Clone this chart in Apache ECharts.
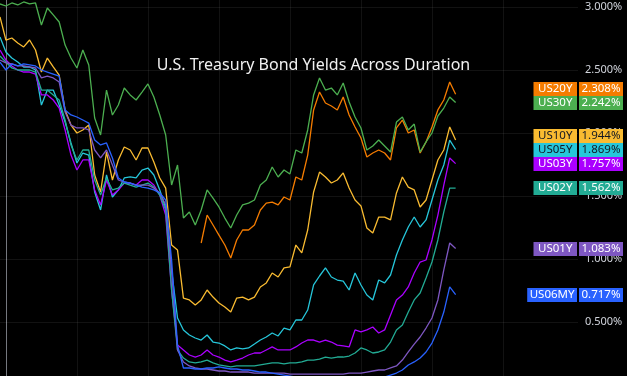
<!DOCTYPE html>
<html><head><meta charset="utf-8">
<script src="https://cdn.jsdelivr.net/npm/echarts@6/dist/echarts.min.js"></script>
<style>html,body{margin:0;padding:0;background:#000;}#c{width:627px;height:376px;}</style>
</head><body><div id="c"></div>
<script>
// sample spacing (months, starting mid-Dec 2018 = -0.5, Jan 2019 = 0)
const startMonth = -0.5;
const stepMonth = 0.5;
const gridMonths = [0, 6, 12, 18, 24, 30, 36, 42];
const yTicks = [0.5, 1.0, 1.5, 2.0, 2.5, 3.0];
const yRange = [0.0714, 3.0556];
const title = 'U.S. Treasury Bond Yields Across Duration';

const us30y = [3.024,3.008,3.032,3.016,3.040,3.024,3.032,2.857,2.992,2.937,
 2.881,2.698,2.595,2.516,2.659,2.540,2.119,1.984,2.341,2.143,
 2.222,2.357,2.302,2.262,2.325,2.389,2.286,2.143,1.984,1.587,
 1.746,1.325,1.373,1.270,1.389,1.548,1.484,1.413,1.325,1.246,
 1.349,1.429,1.444,1.468,1.587,1.627,1.730,1.651,1.706,1.675,
 1.865,1.841,2.024,2.302,2.437,2.341,2.357,2.302,2.397,2.246,
 2.127,2.040,1.865,1.897,1.944,1.897,1.849,2.087,2.127,2.024,
 2.071,1.849,1.929,2.000,2.135,2.198,2.286,2.242];
const us20y = [null,null,null,null,null,null,null,null,null,null,
 null,null,null,null,null,null,null,null,null,null,
 null,null,null,null,null,null,null,null,null,null,
 null,null,null,null,
 1.127,1.349,1.270,1.190,1.111,1.008,1.151,1.230,1.230,1.270,
 1.389,1.444,1.452,1.429,1.492,1.468,1.651,1.627,1.825,2.183,
 2.325,2.238,2.214,2.183,2.286,2.143,2.048,1.960,1.810,1.841,
 1.865,1.841,1.786,2.040,2.103,2.000,2.024,1.841,1.929,2.048,
 2.183,2.262,2.405,2.308];
const us10y = [2.921,2.738,2.754,2.714,2.683,2.738,2.659,2.484,2.595,2.524,
 2.460,2.183,2.063,2.000,2.024,2.063,1.667,1.532,1.849,1.627,
 1.786,1.889,1.865,1.786,1.881,1.881,1.770,1.643,1.563,1.111,
 1.071,0.690,0.675,0.635,0.675,0.754,0.698,0.651,0.619,0.579,
 0.690,0.698,0.675,0.698,0.778,0.810,0.889,0.857,0.929,0.937,
 1.111,1.048,1.230,1.532,1.690,1.651,1.603,1.627,1.683,1.563,
 1.468,1.421,1.246,1.206,1.333,1.333,1.310,1.524,1.651,1.571,
 1.548,1.413,1.468,1.627,1.786,1.865,2.048,1.944];
const us05y = [2.762,2.643,2.595,2.563,2.524,2.524,2.500,2.222,2.341,2.341,
 2.222,2.087,1.921,1.762,1.841,1.825,1.532,1.389,1.667,1.492,
 1.548,1.643,1.651,1.643,1.706,1.722,1.667,1.548,1.405,0.913,
 0.532,0.437,0.397,0.373,0.357,0.397,0.341,0.333,0.310,0.278,
 0.294,0.286,0.294,0.325,0.357,0.381,0.413,0.389,0.452,0.437,
 0.516,0.516,0.595,0.794,0.865,0.929,0.857,0.833,0.825,0.754,
 0.889,0.794,0.714,0.675,0.833,0.810,0.873,1.032,1.151,1.254,
 1.333,1.254,1.310,1.468,1.627,1.746,1.944,1.869];
const us03y = [2.659,2.579,2.532,2.500,2.484,2.484,2.468,2.302,2.302,2.262,
 2.198,2.024,1.825,1.706,1.786,1.786,1.548,1.429,1.627,1.508,
 1.548,1.603,1.603,1.587,1.627,1.627,1.587,1.508,1.349,0.754,
 0.317,0.278,0.238,0.222,0.238,0.278,0.238,0.222,0.198,0.183,
 0.198,0.214,0.238,0.254,0.254,0.278,0.302,0.278,0.278,0.278,
 0.302,0.333,0.357,0.357,0.341,0.357,0.341,0.317,0.310,0.302,
 0.437,0.421,0.437,0.460,0.413,0.437,0.556,0.675,0.714,0.778,
 0.889,0.976,0.992,1.151,1.349,1.587,1.802,1.757];
const us02y = [2.611,2.563,2.516,2.500,2.500,2.500,2.484,2.341,2.341,2.302,
 2.262,2.103,1.905,1.786,1.865,1.865,1.627,1.508,1.643,1.548,
 1.563,1.603,1.587,1.571,1.587,1.603,1.571,1.508,1.389,0.754,
 0.278,0.214,0.183,0.175,0.183,0.198,0.175,0.159,0.151,0.143,
 0.151,0.151,0.151,0.151,0.159,0.167,0.175,0.175,0.167,0.175,
 0.175,0.183,0.198,0.198,0.206,0.222,0.214,0.222,0.222,0.230,
 0.254,0.294,0.278,0.254,0.262,0.278,0.341,0.437,0.476,0.579,
 0.675,0.730,0.849,0.976,1.151,1.373,1.563,1.562];
const us01y = [2.579,2.556,2.548,2.532,2.532,2.524,2.516,2.437,2.452,2.437,
 2.405,2.167,2.063,2.040,2.040,2.024,1.865,1.802,1.865,1.746,
 1.627,1.611,1.603,1.587,1.587,1.587,1.563,1.524,1.429,0.913,
 0.278,0.183,0.151,0.135,0.127,0.127,0.119,0.111,0.111,0.103,
 0.103,0.103,0.103,0.095,0.095,0.095,0.095,0.095,0.095,0.087,
 0.087,0.087,0.087,0.087,0.087,0.087,0.087,0.087,0.087,0.095,
 0.095,0.095,0.103,0.111,0.119,0.119,0.135,0.151,0.198,0.262,
 0.325,0.381,0.452,0.532,0.675,0.913,1.127,1.083];
const us06my = [2.563,2.500,2.548,2.532,2.548,2.540,2.532,2.500,2.484,2.468,
 2.452,2.183,2.143,2.127,2.103,2.079,1.944,1.905,1.921,1.802,
 1.643,1.611,1.603,1.587,1.571,1.563,1.548,1.524,1.468,0.992,
 0.317,0.135,0.135,0.127,0.127,0.135,0.135,0.143,0.135,0.127,
 0.127,0.119,0.119,0.111,0.103,0.103,0.095,0.087,0.079,0.071,
 0.063,0.056,0.048,0.040,0.040,0.040,0.040,0.040,0.040,0.032,
 0.032,0.032,0.040,0.048,0.056,0.063,0.079,0.095,0.119,0.159,
 0.183,0.214,0.262,0.333,0.437,0.579,0.778,0.717];

const seriesDefs = [
  {name:'US20Y', data:us20y, color:'#f57c00', text:'#ffffff'},
  {name:'US30Y', data:us30y, color:'#4caf50', text:'#ffffff'},
  {name:'US10Y', data:us10y, color:'#f9bb31', text:'#131722'},
  {name:'US05Y', data:us05y, color:'#26c6da', text:'#131722'},
  {name:'US03Y', data:us03y, color:'#aa00ff', text:'#ffffff'},
  {name:'US02Y', data:us02y, color:'#22ab94', text:'#ffffff'},
  {name:'US01Y', data:us01y, color:'#7e57c2', text:'#ffffff'},
  {name:'US06MY', data:us06my, color:'#2962ff', text:'#ffffff'}
];

const chart = echarts.init(document.getElementById('c'), null, {renderer:'canvas'});
const FONT = "'Noto Sans', 'DejaVu Sans', sans-serif";
const gridColor = 'rgba(255,255,255,0.07)';

const option = {
  backgroundColor: '#000000',
  animation: false,
  title: {
    text: title, left: 'center', top: 52,
    textStyle: {color:'#f0f0f0', fontSize:16, fontWeight:'normal', fontFamily: FONT}
  },
  grid: {left: 0, right: 49, top: 0, bottom: 0, containLabel: false},
  xAxis: {
    type: 'value', min: -0.5, max: 48.34,
    axisLine: {show:false}, axisTick: {show:false}, axisLabel: {show:false}, splitLine: {show:false}
  },
  yAxis: {
    type: 'value', position: 'right', min: yRange[0], max: yRange[1],
    axisLine: {show:true, lineStyle:{color:'#6b6e76', width:1}},
    axisTick: {show:false, customValues: yTicks},
    axisLabel: {
      color:'#d1d4dc', fontSize: 11, fontFamily: FONT, margin: 7,
      customValues: yTicks,
      formatter: v => v.toFixed(3) + '%'
    },
    splitLine: {show:false}
  },
  series: seriesDefs.map((s, k) => ({
    name: s.name, type: 'line', showSymbol: false, connectNulls: false,
    data: s.data.map((v, i) => [startMonth + i * stepMonth, v]),
    lineStyle: {color: s.color, width: 1.3},
    itemStyle: {color: s.color},
    z: 2 + k,
    markLine: k === 0 ? {
      silent: true, symbol: 'none', label: {show:false}, z: 1,
      lineStyle: {color: gridColor, type:'solid', width:1},
      data: gridMonths.map(m => ({xAxis: m})).concat(yTicks.map(t => ({yAxis: t})))
    } : undefined
  }))
};
chart.setOption(option);

// value tags on the price axis
const tagH = 14;
const axisX = chart.convertToPixel({xAxisIndex:0}, 48.34);
const tags = seriesDefs.map(s => {
  const v = s.data[s.data.length - 1];
  return {name:s.name, color:s.color, text:s.text, value:v, y: chart.convertToPixel({yAxisIndex:0}, v)};
});
tags.sort((a, b) => a.y - b.y);
for (let i = tags.length - 2; i >= 0; i--) {
  if (tags[i].y > tags[i + 1].y - tagH) tags[i].y = tags[i + 1].y - tagH;
}
const elements = [];
tags.forEach(t => {
  const nameW = t.name.length * 6.3 + 12;
  const top = Math.round(t.y - tagH / 2);
  elements.push({type:'rect', z:100, shape:{x: axisX - 1 - nameW, y: top, width: nameW, height: tagH}, style:{fill: t.color}});
  elements.push({type:'rect', z:100, shape:{x: axisX + 1, y: top, width: 44, height: tagH}, style:{fill: t.color}});
  elements.push({type:'text', z:101, x: axisX - 1 - nameW / 2, y: t.y, style:{text: t.name, fill: t.text, font: "11.5px 'Noto Sans', sans-serif", align:'center', verticalAlign:'middle'}});
  elements.push({type:'text', z:101, x: axisX + 23, y: t.y, style:{text: t.value.toFixed(3) + '%', fill: t.text, font: "11.5px 'Noto Sans', sans-serif", align:'center', verticalAlign:'middle'}});
});
chart.setOption({graphic: {elements}});
</script>
</body></html>
